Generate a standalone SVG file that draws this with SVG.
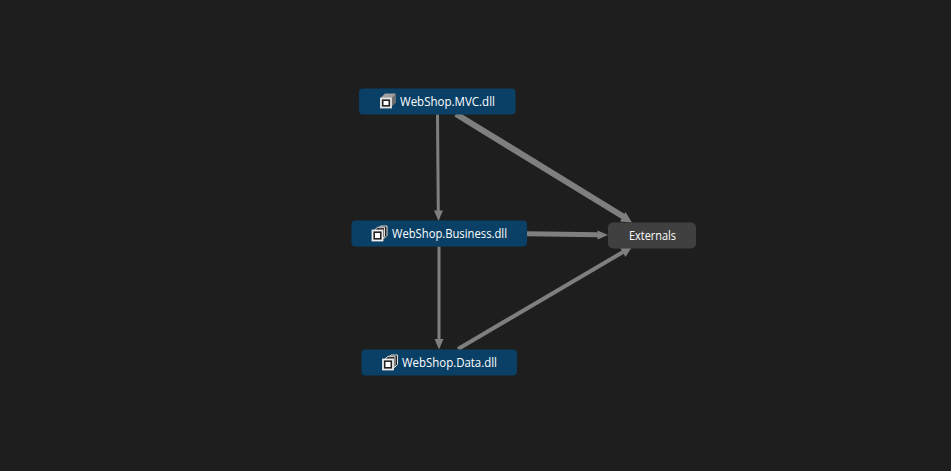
<svg xmlns="http://www.w3.org/2000/svg" width="951" height="471" viewBox="0 0 951 471">
<style>
.n{fill:#0a3f66}
.x{fill:#404040}
.t{font-family:"Open Sans","Noto Sans",sans-serif;font-size:12px;fill:#fff}
.e{stroke:#7f7f7f;fill:none}
.h{fill:#7f7f7f}
</style>
<defs>
<g id="cube">
<path d="M0 5 L5 0 H15.500 V9 L10 14.500 H0Z" fill="#a0a0a0"/>
<path d="M11 5 L15.500 0.500 V9 L11 13.500Z" fill="#6e6e6e"/>
<rect x="1" y="5" width="10" height="9" fill="#222" stroke="#e4e4e4" stroke-width="1.800"/>
<rect x="3.500" y="7.500" width="5" height="4" fill="#fff"/>
</g>
<g id="stack">
<path d="M6 4 L9 0.500 H15.500 V10 L12.500 13Z" fill="#222" stroke="#ddd" stroke-width="1"/>
<path d="M3 4.500 L6 1.800 H13 V11 L10.500 14Z" fill="#333" stroke="#ddd" stroke-width="1"/>
<rect x="1" y="5" width="10" height="10" fill="#222" stroke="#eee" stroke-width="1.800"/>
<rect x="3.500" y="7.500" width="5" height="5" fill="#fff"/>
</g>
</defs>
<rect width="951" height="471" fill="#1e1e1e"/>
<g id="connectors">
<path class="e" stroke-width="3" d="M437.500 114.500 L438.300 212"/>
<path class="h" d="M438.500 221 L434 210.500 L443 210.500Z"/>
<path class="e" stroke-width="6" d="M456 114 L624 217"/>
<path class="h" d="M632 222.500 L620 221.500 L625.500 212Z"/>
<path class="e" stroke-width="3" d="M439 246.500 L439 341"/>
<path class="h" d="M439 349.500 L434.500 339 L443.500 339Z"/>
<path class="e" stroke-width="5" d="M527 233.800 L598 234.800"/>
<path class="h" d="M608 235 L597.500 230.500 L597.500 239.500Z"/>
<path class="e" stroke-width="4" d="M458 349 L623 252"/>
<path class="h" d="M632 247 L620 247.500 L625.500 257Z"/>
</g>
<g id="mvc">
<rect class="n" x="359" y="88.500" width="156.500" height="26" rx="4"/>
<use href="#cube" x="380" y="93.500"/>
<text class="t" x="400" y="105.500" textLength="95" lengthAdjust="spacingAndGlyphs">WebShop.MVC.dll</text>
</g>
<g id="business">
<rect class="n" x="351.500" y="220.500" width="175.500" height="26" rx="4"/>
<use href="#stack" x="371.500" y="225.500"/>
<text class="t" x="392" y="237.500" textLength="115" lengthAdjust="spacingAndGlyphs">WebShop.Business.dll</text>
</g>
<g id="data">
<rect class="n" x="361.500" y="349.500" width="155.500" height="26" rx="4"/>
<use href="#stack" x="382" y="354.500"/>
<text class="t" x="402" y="367" textLength="95" lengthAdjust="spacingAndGlyphs">WebShop.Data.dll</text>
</g>
<g id="externals">
<rect class="x" x="608" y="222.500" width="88" height="26" rx="5"/>
<text class="t" x="629" y="240" textLength="47" lengthAdjust="spacingAndGlyphs">Externals</text>
</g>
</svg>
